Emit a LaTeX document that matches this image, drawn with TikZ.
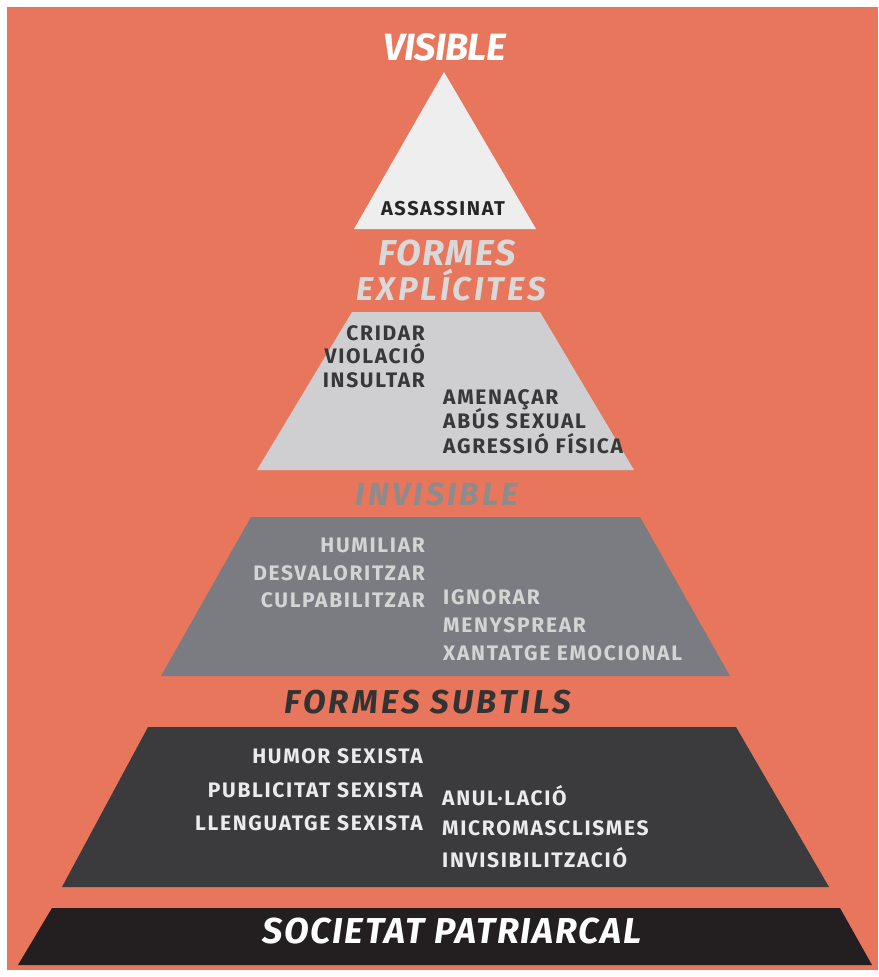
\documentclass[tikz,border=0pt]{standalone}
\usepackage{fontspec}
\setmainfont{Fira Sans}
\newfontfamily\itemfont[LetterSpace=8]{Fira Sans}
\newfontfamily\headfont{Fira Sans}
\definecolor{bgorange}{HTML}{E7765D}
\definecolor{tipfill}{HTML}{EEEEEE}
\definecolor{explicitfill}{HTML}{CFCFD1}
\definecolor{invisiblefill}{HTML}{7B7C82}
\definecolor{subtlefill}{HTML}{3B3A3D}
\definecolor{basefill}{HTML}{231E20}
\newcommand\headsize[2]{\headfont\addfontfeature{LetterSpace=#2}\bfseries\itshape\fontsize{#1}{#1}\selectfont}
\begin{document}
\begin{tikzpicture}[x=1pt, y=-1pt,
        head/.style={inner sep=0, anchor=base},
        item/.style={inner sep=0, font=\itemfont\bfseries\fontsize{21}{21}\selectfont},
        left item/.style={item, anchor=base east},
        right item/.style={item, anchor=base west}]
        \fill[white] (0, 0) rectangle (878, 977);
        \fill[bgorange] (7, 7) rectangle (878, 970);
        % the five layers
        \fill[tipfill] (444, 72) -- (536, 229) -- (354, 229) -- cycle;
        \fill[explicitfill] (352, 312) -- (540, 312) -- (634, 470) -- (257, 470) -- cycle;
        \fill[invisiblefill] (251, 517) -- (640, 517) -- (730, 676) -- (161, 676) -- cycle;
        \fill[subtlefill] (148, 727) -- (736, 727) -- (829, 887) -- (62, 887) -- cycle;
        \fill[basefill] (52, 908) -- (840, 908) -- (872, 965) -- (18, 965) -- cycle;
        % headings
        \node[head, text=white, font=\headsize{38}{-2}] (visible) at (445, 60) {VISIBLE};
        \node[head, text=black!85, font=\itemfont\bfseries\fontsize{20}{20}\selectfont] (assassinat) at (443, 215) {ASSASSINAT};
        \node[head, text=black!15, font=\headsize{36}{4}] (formes) at (447, 265) {FORMES};
        \node[head, text=black!15, font=\headsize{33}{9}] (explicites) at (451, 300) {EXPLÍCITES};
        \node[head, text=black!45, font=\headsize{32}{10}] (invisible) at (437, 505) {INVISIBLE};
        \node[head, text=black!80, font=\headsize{33}{10}] (subtils) at (428, 713) {FORMES SUBTILS};
        \node[head, text=white, font=\headsize{36}{5}] (patriarcal) at (452, 943) {SOCIETAT PATRIARCAL};
        % explicit forms
        \foreach \txt/\yb [count=\i] in {CRIDAR/340, VIOLACIÓ/363, INSULTAR/387} {
                \node[left item, text=black!78] (expl-l\i) at (425, \yb) {\txt};
            }
        \foreach \txt/\yb [count=\i] in {AMENAÇAR/404, ABÚS SEXUAL/428, AGRESSIÓ FÍSICA/453} {
                \node[right item, text=black!78] (expl-r\i) at (443, \yb) {\txt};
            }
        % invisible forms
        \foreach \txt/\yb [count=\i] in {HUMILIAR/552, DESVALORITZAR/580, CULPABILITZAR/607} {
                \node[left item, text=black!17] (invi-l\i) at (425, \yb) {\txt};
            }
        \foreach \txt/\yb [count=\i] in {IGNORAR/604, MENYSPREAR/632, XANTATGE EMOCIONAL/660} {
                \node[right item, text=black!17] (invi-r\i) at (443, \yb) {\txt};
            }
        % subtle forms
        \foreach \txt/\yb [count=\i] in {HUMOR SEXISTA/763, PUBLICITAT SEXISTA/797, LLENGUATGE SEXISTA/830} {
                \node[left item, text=black!8] (subt-l\i) at (423, \yb) {\txt};
            }
        \foreach \txt/\yb [count=\i] in {ANUL·LACIÓ/805, MICROMASCLISMES/835, INVISIBILITZACIÓ/867} {
                \node[right item, text=black!8] (subt-r\i) at (442, \yb) {\txt};
            }
    \end{tikzpicture}
\end{document}
